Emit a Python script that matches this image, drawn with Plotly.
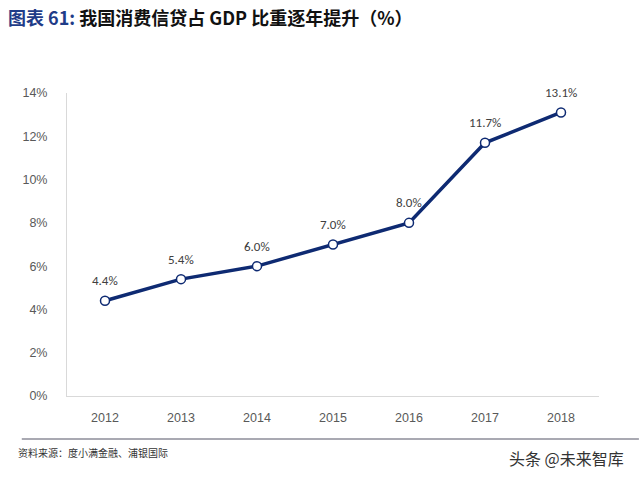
import plotly.graph_objects as go

years = ["2012", "2013", "2014", "2015", "2016", "2017", "2018"]
ratio = [4.4, 5.4, 6.0, 7.0, 8.0, 11.7, 13.1]
labels = [f"{v:.1f}%" for v in ratio]
ytick_vals = [0, 2, 4, 6, 8, 10, 12, 14]
ytick_text = [f"{v}%" for v in ytick_vals]

fig = go.Figure()
fig.add_trace(go.Scatter(
    x=years, y=ratio, mode="lines+markers",
    line=dict(color="#0E2A72", width=3.5),
    marker=dict(size=9, color="white", line=dict(color="#0E2A72", width=1.5)),
    cliponaxis=False, showlegend=False,
))
for i, (yv, lab) in enumerate(zip(ratio, labels)):
    fig.add_annotation(x=i, y=yv, text=lab, showarrow=False, yshift=20,
                       font=dict(size=13, color="#404040", family="Carlito, Liberation Sans, sans-serif"))

fig.update_layout(
    width=640, height=479,
    margin=dict(l=67, r=41, t=93, b=83),
    paper_bgcolor="white", plot_bgcolor="white",
    font=dict(family="Liberation Sans, DejaVu Sans, sans-serif", color="#595959"),
    xaxis=dict(type="category", range=[-0.5, 6.5], showgrid=False, showline=True,
               linecolor="#D9D9D9", linewidth=1, ticks="", tickfont=dict(size=12.5, color="#595959"),
               ticklabelstandoff=10, zeroline=False),
    yaxis=dict(range=[0, 14], tickvals=ytick_vals, ticktext=ytick_text, showgrid=False,
               showline=True, linecolor="#D9D9D9", linewidth=1, ticks="",
               tickfont=dict(size=12.5, color="#595959"), ticklabelstandoff=16, zeroline=False),
)

fig.add_annotation(xref="paper", yref="paper", x=-0.115, y=1.0, yanchor="middle", xanchor="left",
                   yshift=76, showarrow=False,
                   text="<b><span style='color:#1F3C88'>图表 61:</span> 我国消费信贷占 GDP 比重逐年提升（%）</b>",
                   font=dict(size=18, color="#111111", family="Noto Sans CJK SC, sans-serif"))
fig.add_shape(type="line", xref="paper", yref="paper", x0=-0.085, x1=1.075, y0=-0.142, y1=-0.142,
              line=dict(color="#8C8C99", width=1.5))
fig.add_annotation(xref="paper", yref="paper", x=-0.095, y=-0.185, xanchor="left", yanchor="middle",
                   showarrow=False, text="资料来源：度小满金融、浦银国际",
                   font=dict(size=10, color="#333333", family="Noto Sans CJK SC, sans-serif"))
fig.add_annotation(xref="paper", yref="paper", x=1.05, y=-0.205, xanchor="right", yanchor="middle",
                   showarrow=False, text="头条 @未来智库",
                   font=dict(size=16, color="#333333", family="Noto Sans CJK SC, sans-serif"))

fig.write_html("out.html")
